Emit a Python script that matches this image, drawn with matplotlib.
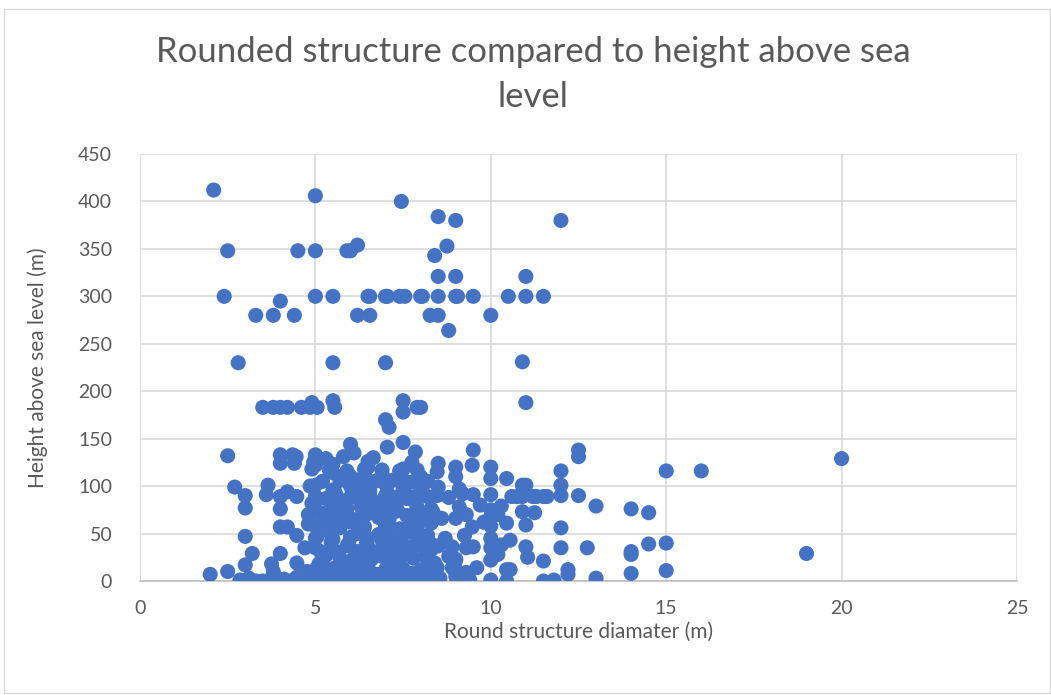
import matplotlib.pyplot as plt
from matplotlib.patches import Rectangle

# round structure diameter (m) and height above sea level (m)
# upper, sparse part
diam_high = [2.1, 5.0, 7.45, 8.5, 9.0, 12.0,
             2.5, 4.5, 5.0, 5.9, 6.0, 6.2, 8.75, 8.4, 8.5, 9.0, 11.0,
             2.4, 5.0, 5.5, 6.5, 6.55, 7.0, 7.05, 7.4, 7.55, 8.0, 8.05, 8.5, 9.0, 9.05,
             9.5, 10.5, 11.0, 11.5, 4.0,
             3.3, 3.8, 4.4, 6.2, 6.55, 8.27, 8.5, 10.0, 8.8,
             2.8, 5.5, 7.0, 10.9, 11.0,
             3.5, 3.8, 4.0, 4.2, 4.6, 4.85, 5.05, 5.55, 7.9, 8.0, 4.9, 5.5, 7.5, 7.5,
             7.0, 7.1]
height_high = [412, 406, 400, 384, 380, 380,
               348, 348, 348, 348, 348, 354, 353, 343, 321, 321, 321,
               300, 300, 300, 300, 300, 300, 300, 300, 300, 300, 300, 300, 300, 300,
               300, 300, 300, 300, 295,
               280, 280, 280, 280, 280, 280, 280, 280, 264,
               230, 230, 230, 231, 188,
               183, 183, 183, 183, 183, 183, 183, 183, 183, 183, 188, 190, 190, 178,
               170, 162]

# left side of the lower cluster
diam_left = [2.5, 4.0, 4.0, 4.35, 4.4, 2.7, 3.0, 3.0, 3.65, 3.6, 4.0, 4.2, 4.47,
             4.0, 4.0, 4.2, 4.47, 3.0, 3.2, 4.0, 3.0, 3.75, 3.8, 4.47, 2.0, 2.5,
             2.85, 3.1, 3.3, 3.5, 3.7, 3.9, 4.1, 4.3, 4.55, 4.47, 4.7, 4.8, 4.75]
height_left = [132, 133, 124, 133, 124, 99, 90, 77, 101, 91, 89, 94, 89,
               76, 57, 57, 48, 47, 29, 29, 17, 18, 10, 19, 7, 10,
               1, 3, 0, 0, 1, 0, 2, 0, 1, 4, 35, 60, 10]

# dense middle of the lower cluster
diam_mid = [4.9, 5.1, 5.3, 5.5, 5.7, 5.9, 6.1, 6.5, 6.7, 6.9, 7.1, 7.3, 7.5, 7.7, 7.9, 8.1,
            8.47, 9.3, 9.4, 10.0, 10.45, 5.0, 6.0, 7.0, 8.0, 9.0, 8.55,
            5.0, 5.5, 6.0, 6.5, 7.0, 7.5, 8.0, 8.47, 8.9, 9.0, 10.45, 5.8, 6.3,
            5.2, 5.7, 6.0, 6.6, 7.0, 7.4, 7.8, 8.2, 9.0, 10.0,
            5.0, 5.5, 5.9, 6.2, 6.5, 7.0, 7.25, 7.5, 7.75, 8.0, 8.3, 8.5, 8.9, 9.3, 9.5,
            10.0, 10.3,
            5.0, 5.5, 6.0, 6.5, 6.9, 7.3, 7.9, 8.27, 10.55, 10.0,
            5.0, 5.3, 5.7, 6.0, 6.4, 7.0, 7.4, 7.9, 8.3, 9.47, 10.0, 10.45,
            5.2, 5.6, 6.0, 6.5, 6.8, 7.2, 7.6, 8.0, 8.6, 10.0, 10.2,
            5.0, 5.5, 5.9, 6.3, 6.6, 7.0, 7.3, 7.9, 8.3, 9.1, 10.0, 10.3,
            5.0, 5.3, 5.6, 6.0, 6.3, 6.6, 7.0, 7.3, 7.6, 7.9, 8.2, 8.47, 8.8, 9.2, 9.5,
            10.0, 10.6,
            5.0, 5.5, 6.0, 6.5, 7.0, 7.5, 8.0, 8.5, 9.1, 10.9,
            5.5, 6.0, 6.4, 6.9, 7.45, 8.0, 8.47, 9.0, 10.0, 10.45,
            5.0, 5.5, 6.5, 7.75, 8.5, 9.0, 9.47, 10.0,
            4.45, 5.0, 5.3, 5.8, 6.1, 6.65, 7.85, 9.5,
            6.0, 7.05, 7.5,
            5.4, 6.2, 6.8, 7.6, 8.2, 5.8, 6.7, 7.2, 7.8, 5.6, 6.1, 7.1, 7.7, 8.1,
            5.3, 6.3, 6.9, 7.4, 5.1, 6.4, 7.3, 8.4,
            # extra points filling the dense block
            5.25, 5.75, 6.25, 6.75, 7.25, 7.75, 8.25, 5.15, 5.65, 6.15, 6.65, 7.15, 7.65,
            8.15, 5.45, 5.95, 6.45, 6.95, 7.45, 7.95, 5.35, 5.85, 6.35, 6.85, 7.35, 7.85,
            8.35, 5.55, 6.05, 6.55, 7.05, 7.55, 8.05, 5.2, 5.7, 6.2, 6.7, 7.2, 7.7, 8.2,
            4.9, 5.4, 5.9, 6.4, 6.9, 7.4, 7.9, 4.85, 4.95, 4.8, 4.9, 5.05, 6.0, 7.0,
            8.0, 6.5, 7.5, 9.0, 9.3, 8.7, 9.7, 9.0, 9.25, 8.8, 9.6, 10.2, 9.8, 9.3]
height_mid = [2, 0, 1, 3, 0, 2, 1, 0, 2, 1, 0, 3, 1, 0, 2, 1,
              1, 4, 1, 1, 0, 5, 5, 5, 5, 5, 3,
              12, 13, 11, 14, 12, 13, 11, 14, 14, 12, 12, 15, 10,
              22, 24, 21, 23, 25, 22, 24, 21, 23, 22,
              35, 33, 37, 31, 36, 34, 38, 32, 36, 38, 33, 37, 36, 35, 36,
              35, 38,
              45, 44, 46, 45, 43, 46, 44, 40, 43, 45,
              58, 60, 56, 62, 57, 59, 55, 54, 61, 57, 58, 61,
              68, 70, 66, 71, 67, 72, 69, 68, 66, 68, 70,
              77, 78, 76, 79, 75, 77, 80, 78, 76, 78, 75, 79,
              89, 87, 90, 88, 91, 86, 90, 88, 87, 90, 89, 90, 88, 92, 91,
              91, 89,
              101, 96, 100, 98, 102, 97, 100, 99, 97, 101,
              114, 110, 112, 112, 110, 110, 115, 110, 108, 108,
              122, 123, 120, 125, 124, 120, 122, 120,
              131, 133, 129, 131, 135, 130, 136, 138,
              144, 141, 146,
              52, 50, 49, 51, 48, 84, 82, 83, 85, 64, 63, 65, 62, 64,
              27, 28, 26, 29, 18, 17, 16, 19,
              7, 6, 8, 7, 6, 8, 7, 31, 30, 29, 31, 30, 29,
              30, 41, 40, 39, 41, 40, 39, 73, 74, 72, 73, 74, 72,
              73, 94, 93, 95, 94, 93, 94, 105, 106, 104, 105, 106, 104, 105,
              118, 117, 116, 118, 117, 116, 117, 100, 125, 70, 82, 47, 19, 52,
              89, 126, 118, 66, 70, 45, 80, 22, 48, 26, 14, 28, 62, 9]

# right side of the lower cluster
diam_right = [11.0, 11.0, 10.75, 10.9, 11.3, 11.6, 11.25, 11.0, 11.05, 11.5, 11.5,
              11.8, 12.5, 12.5, 12.0, 15.0, 16.0, 12.0, 12.0, 12.5, 11.2, 11.5,
              13.0, 14.0, 14.5, 12.0, 12.0, 12.75, 14.0, 14.0, 14.5, 15.0, 15.0,
              14.0, 13.0, 12.2, 12.2, 20.0, 19.0, 10.9, 10.55]
height_right = [101, 59, 89, 89, 89, 89, 72, 36, 25, 21, 0,
                1, 138, 131, 116, 116, 116, 101, 90, 90, 89, 89,
                79, 76, 72, 56, 35, 35, 31, 28, 39, 40, 11,
                8, 3, 12, 7, 129, 29, 73, 12]

diameter = diam_high + diam_left + diam_mid + diam_right
height = height_high + height_left + height_mid + height_right

plt.rcParams['font.family'] = ['Lato', 'DejaVu Sans']
grey = '#595959'

fig = plt.figure(figsize=(10.51, 6.95), dpi=100)
ax = fig.add_axes([140 / 1051, 114 / 695, 877 / 1051, 427 / 695])

ax.scatter(diameter, height, s=118, color='#4472C4', edgecolors='none', zorder=3)

ax.set_xlim(0, 25)
ax.set_ylim(0, 450)
ax.set_xticks(range(0, 26, 5))
ax.set_yticks(range(0, 451, 50))
ax.grid(True, color='#D9D9D9', linewidth=1.2, zorder=0)
ax.set_axisbelow(True)
for side in ['top', 'right', 'left']:
    ax.spines[side].set_visible(False)
ax.spines['bottom'].set_color('#BFBFBF')
ax.spines['bottom'].set_linewidth(1.2)
ax.tick_params(length=0, labelsize=14, labelcolor=grey)
ax.tick_params(axis='y', pad=20)
ax.tick_params(axis='x', pad=14)

ax.set_xlabel('Round structure diamater (m)', fontsize=15, color=grey, labelpad=3)
ax.set_ylabel('Height above sea level (m)', fontsize=15, color=grey, labelpad=22)

fig.text(0.507, 0.948, 'Rounded structure compared to height above sea\nlevel',
         ha='center', va='top', fontsize=25, color=grey, linespacing=1.5)

# chart border
fig.patches.append(Rectangle((4 / 1051, 2 / 695), 1 - 5 / 1051, 1 - 11 / 695,
                             transform=fig.transFigure, fill=False,
                             edgecolor='#D9D9D9', linewidth=1))

fig.savefig('out.png', dpi=100)
